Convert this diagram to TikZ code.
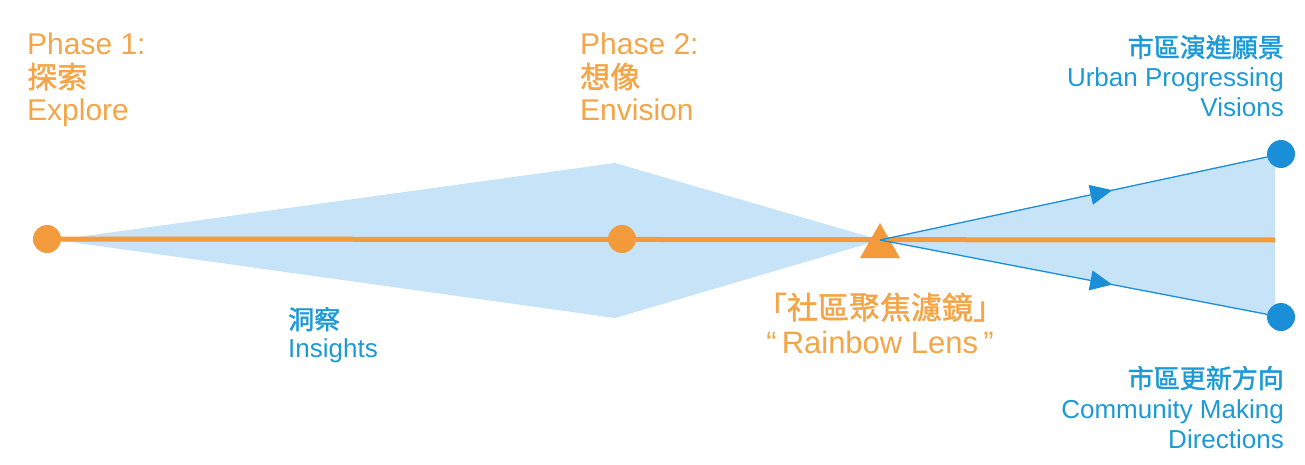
\documentclass[tikz,border=0pt]{standalone}
\usepackage{fontspec}
\setmainfont{Liberation Sans}
\newfontfamily\cjk[FakeBold=1.5]{Noto Sans CJK TC}
\usetikzlibrary{arrows.meta,decorations.markings}
\definecolor{org}{HTML}{F39A3C}
\definecolor{orgtxt}{HTML}{F4A548}
\definecolor{blu}{HTML}{1A8FD8}
\definecolor{blutxt}{HTML}{1C9AD8}
\definecolor{lblu}{HTML}{C6E3F8}
\tikzset{
  odot/.style={circle,fill=org,inner sep=0pt,minimum size=28pt},
  bdot/.style={circle,fill=blu,inner sep=0pt,minimum size=28pt},
  otxt/.style={text=orgtxt,inner sep=0pt,font=\fontsize{30}{33}\selectfont},
  btxt/.style={text=blutxt,inner sep=0pt,font=\fontsize{26}{30}\selectfont},
  ray/.style={draw=blu,line width=1.3pt,postaction={decorate},
    decoration={markings,mark=at position 0.6 with {\arrow{Triangle[length=22pt,width=20pt]}}}},
}
\begin{document}
\begin{tikzpicture}[x=1pt,y=-1pt]
\useasboundingbox (0,0) rectangle (1305,465);
% coordinates
\coordinate (lens) at (880,240);
\coordinate (lineend) at (1275,240);
% light blue fills
\fill[lblu] (56,240) -- (615,163) -- (lens) -- (615,318) -- cycle;
\fill[lblu] (lens) -- (1275,155) -- (1275,316) -- cycle;
% nodes
\node[odot] (p1) at (47,239) {};
\node[odot] (p2) at (622,239) {};
\node[bdot] (v1) at (1281,154) {};
\node[bdot] (v2) at (1281,317) {};
% orange axis
\draw[org,line width=5pt] (p1) -- (lineend);
\fill[org] (860,258) -- (880,223) -- (900,258) -- cycle;
% rays
\draw[ray] (lens) -- (v1);
\draw[ray] (lens) -- (v2);
% labels phase 1
\node[otxt,anchor=base west] (t1a) at (27,55) {Phase 1:};
\node[otxt,anchor=base west] (t1b) at (27,88) {\cjk 探索};
\node[otxt,anchor=base west] (t1c) at (27,121) {Explore};
% phase 2
\node[otxt,anchor=base west] (t2a) at (580,55) {Phase 2:};
\node[otxt,anchor=base west] (t2b) at (580,88) {\cjk 想像};
\node[otxt,anchor=base west] (t2c) at (580,121) {Envision};
% lens label
\node[otxt,anchor=base,font=\fontsize{31}{33}\selectfont] (t3a) at (880,319) {\cjk 「社區聚焦濾鏡」};
\node[otxt,anchor=base,font=\fontsize{31}{33}\selectfont] (t3b) at (880,353) {“\,Rainbow Lens\,”};
% insights
\node[btxt,anchor=base west] (t4a) at (288,329) {\cjk 洞察};
\node[btxt,anchor=base west] (t4b) at (288,357) {Insights};
% top right
\node[btxt,anchor=base east] (t5a) at (1284,57) {\cjk 市區演進願景};
\node[btxt,anchor=base east] (t5b) at (1284,87) {Urban Progressing};
\node[btxt,anchor=base east] (t5c) at (1284,117) {Visions};
% bottom right
\node[btxt,anchor=base east] (t6a) at (1284,388) {\cjk 市區更新方向};
\node[btxt,anchor=base east] (t6b) at (1284,418) {Community Making};
\node[btxt,anchor=base east] (t6c) at (1284,448) {Directions};
\end{tikzpicture}
\end{document}
